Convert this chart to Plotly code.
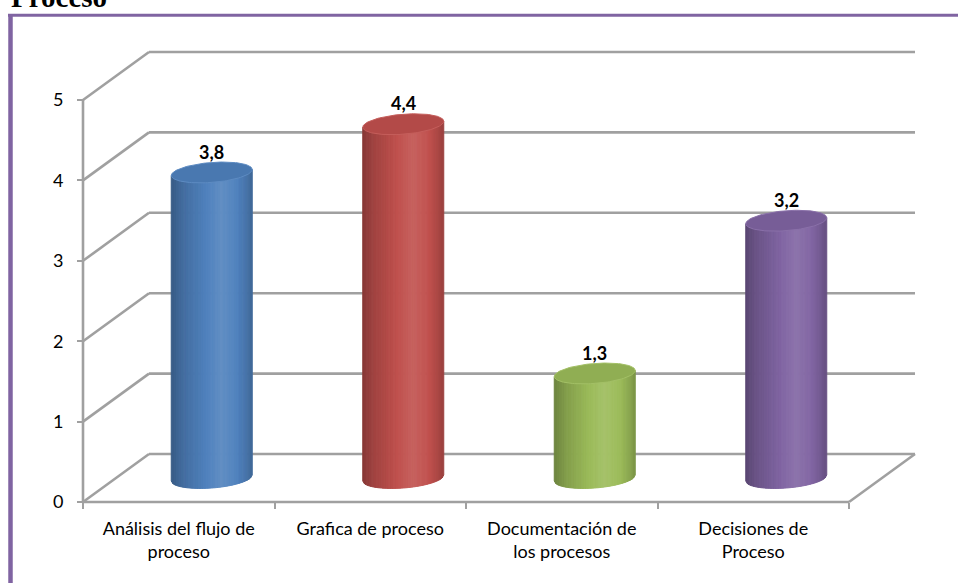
import numpy as np
import plotly.graph_objects as go

# ---------------- data ----------------
categories = ["Análisis del flujo de<br>proceso", "Grafica de proceso",
              "Documentación de<br>los procesos", "Decisiones de<br>Proceso"]
values = [3.8, 4.4, 1.3, 3.2]
value_labels = ["3,8", "4,4", "1,3", "3,2"]
y_ticks = [0, 1, 2, 3, 4, 5]
title_text = "Proceso"

# ---------------- style ----------------
colors = ["#4F81BD", "#C0504D", "#9BBB59", "#8064A2"]
GRID = "#a0a0a0"
FONT = "Lato"

# pixel layout of the plotting area
W, H = 958, 583
L_PX, R_PX, T_PX, B_PX = 77, 920, 50, 508
X0_PX, Y0_PX = 83, 502          # pixel of x=-0.5 and y=0 (front corner)
PX_PER_CAT = 191.5
PX_PER_VAL = 80.4

DX = 66 / PX_PER_CAT            # depth offset (x units)
DY = 48 / PX_PER_VAL            # depth offset (y units)
RAD = 40.5 / PX_PER_CAT         # cylinder half width
ELL = 10 / PX_PER_VAL           # ellipse half height
TILT = 3 / PX_PER_VAL           # ellipse tilt

x_range = [-0.5 - (X0_PX - L_PX) / PX_PER_CAT, -0.5 + (R_PX - X0_PX) / PX_PER_CAT]
y_range = [-(B_PX - Y0_PX) / PX_PER_VAL, (Y0_PX - T_PX) / PX_PER_VAL]

n_cat = len(values)
x_left, x_right = -0.5, n_cat - 0.5


def shade(hexc, f):
    c = [int(hexc[k:k + 2], 16) for k in (1, 3, 5)]
    if f < 1:
        c = [v * f for v in c]
    else:
        c = [v + (255 - v) * (f - 1) for v in c]
    return "rgb(%d,%d,%d)" % tuple(max(0, min(255, round(v))) for v in c)


fig = go.Figure()


def line(xs, ys, color=GRID, width=2.6):
    fig.add_trace(go.Scatter(x=xs, y=ys, mode="lines", line=dict(color=color, width=width),
                             hoverinfo="skip", showlegend=False))


# back wall gridlines and side-wall diagonals
for k in y_ticks:
    line([x_left + DX, x_right + DX], [k + DY, k + DY])
    line([x_left, x_left + DX], [k, k + DY])
# floor front edge and right edge
line([x_left, x_right], [0, 0])
line([x_right, x_right + DX], [0, DY])
# front vertical axis
line([x_left, x_left], [0, max(y_ticks)])

# cylinders
tp = [-1.0, -0.7, -0.2, 0.25, 0.6, 0.85, 1.0]
fp = [0.70, 0.84, 0.98, 1.10, 1.02, 0.90, 0.80]
ts = np.linspace(-1, 1, 49)
theta = np.linspace(0, 2 * np.pi, 121)
for i, (v, c) in enumerate(zip(values, colors)):
    cx = i + DX / 2
    cy0 = DY / 2
    cy1 = DY / 2 + v
    for j in range(len(ts) - 1):
        ta, tb = ts[j], ts[j + 1]
        xa, xb = cx + RAD * ta, cx + RAD * tb
        ya = cy0 - ELL * np.sqrt(max(0, 1 - ta ** 2)) + TILT * ta
        yb = cy0 - ELL * np.sqrt(max(0, 1 - tb ** 2)) + TILT * tb
        za = cy1 + TILT * ta
        zb = cy1 + TILT * tb
        col = shade(c, float(np.interp((ta + tb) / 2, tp, fp)))
        fig.add_trace(go.Scatter(x=[xa, xb, xb, xa, xa], y=[ya, yb, zb, za, ya],
                                 mode="lines", fill="toself", fillcolor=col,
                                 line=dict(color=col, width=1),
                                 hoverinfo="skip", showlegend=False))
    ex = cx + RAD * np.cos(theta)
    ey = cy1 + ELL * np.sin(theta) + TILT * np.cos(theta)
    fig.add_trace(go.Scatter(x=ex, y=ey, mode="lines", fill="toself",
                             fillcolor=shade(c, 0.93),
                             line=dict(color=shade(c, 1.08), width=1),
                             hoverinfo="skip", showlegend=False))
    fig.add_annotation(x=cx, y=cy1 + 0.26, text="<b>%s</b>" % value_labels[i],
                       showarrow=False, xref="x", yref="y", yanchor="middle",
                       font=dict(family=FONT, size=18, color="black"))

# frame (purple border of the chart box) and cut-off heading
pw, ph = R_PX - L_PX, B_PX - T_PX
def px_x(p): return (p - L_PX) / pw
def px_y(p): return (B_PX - p) / ph

fig.add_shape(type="line", xref="paper", yref="paper",
              x0=px_x(10.5), x1=px_x(10.5), y0=px_y(14), y1=px_y(600),
              line=dict(color="#8064A2", width=4.5))
fig.add_shape(type="line", xref="paper", yref="paper",
              x0=px_x(8), x1=px_x(960), y0=px_y(15.3), y1=px_y(15.3),
              line=dict(color="#8064A2", width=3))
fig.add_annotation(x=px_x(9), y=px_y(15), xref="paper", yref="paper",
                   xanchor="left", yanchor="bottom", showarrow=False,
                   text="<b>%s</b>" % title_text,
                   font=dict(family="Liberation Serif", size=29, color="black"))

fig.update_layout(
    width=W, height=H,
    margin=dict(l=L_PX, r=W - R_PX, t=T_PX, b=H - B_PX, pad=0),
    paper_bgcolor="white", plot_bgcolor="white",
    showlegend=False,
    font=dict(family=FONT, size=18, color="black"),
    xaxis=dict(range=x_range, showgrid=False, zeroline=False, showline=False,
               tickmode="array", tickvals=list(range(n_cat)), ticktext=categories,
               ticks="", ticklabelstandoff=14,
               anchor="free", position=(B_PX - Y0_PX) / ph,
               minor=dict(tickmode="array", tickvals=[k - 0.5 for k in range(n_cat + 1)],
                          ticks="outside", ticklen=6, tickwidth=2, tickcolor=GRID),
               tickfont=dict(family=FONT, size=18, color="black")),
    yaxis=dict(range=y_range, showgrid=False, zeroline=False, showline=False,
               tickmode="array", tickvals=y_ticks, ticktext=[str(t) for t in y_ticks],
               ticks="outside", ticklen=6, tickwidth=2, tickcolor=GRID,
               ticklabelstandoff=10,
               anchor="free", position=(X0_PX - L_PX) / pw,
               tickfont=dict(family=FONT, size=18, color="black")),
)

fig.write_html("out.html", config={"displayModeBar": False},
               post_script="document.body.style.margin='0';document.body.style.overflow='hidden';")
